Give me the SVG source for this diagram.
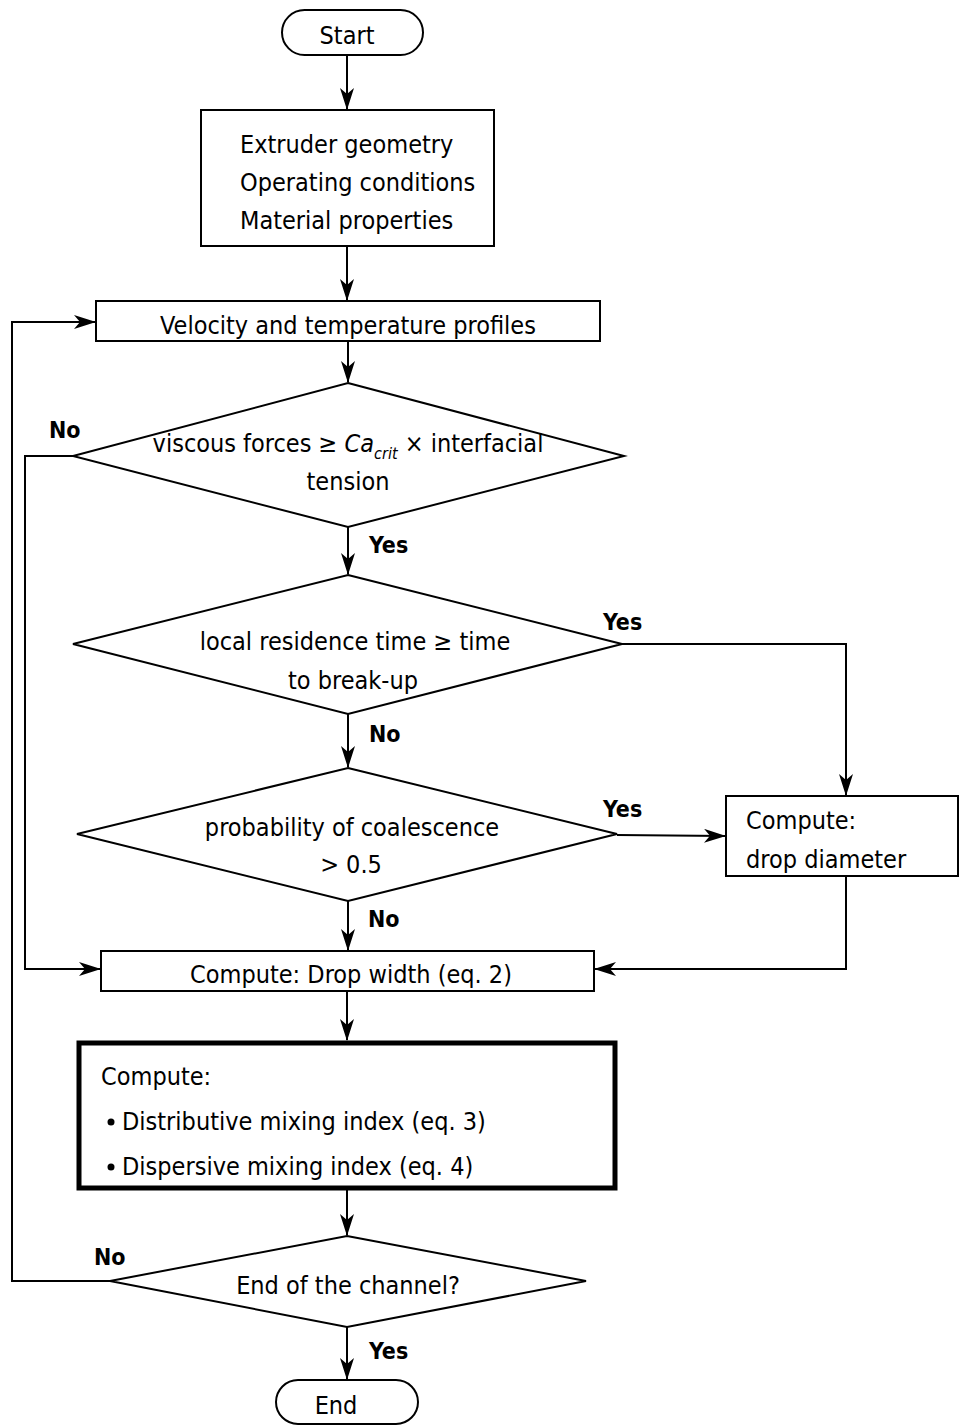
<svg xmlns="http://www.w3.org/2000/svg" width="959" height="1426" viewBox="0 0 959 1426">
  <defs>
    <marker id="arrow" viewBox="0 0 22 14" refX="21" refY="7" markerWidth="22" markerHeight="14" markerUnits="userSpaceOnUse" orient="auto">
      <path d="M0,0 L22,7 L0,14 L6,7 z" fill="#000"/>
    </marker>
    <style>
      .shape { fill: #fff; stroke: #000; stroke-width: 2; }
      .thick { fill: #fff; stroke: #000; stroke-width: 5; }
      .arr { fill: none; stroke: #000; stroke-width: 2; marker-end: url(#arrow); }
      text { font-family: "Liberation Sans Narrow", "DejaVu Sans Condensed", "Roboto", sans-serif; font-size: 25px; fill: #000; }
      .c { text-anchor: middle; }
      .lbl { font-weight: bold; font-size: 23px; }
    </style>
  </defs>

  <!-- connectors -->
  <g id="connectors">
    <path class="arr" d="M347,56 L347,109"/>
    <path class="arr" d="M347,246 L347,300"/>
    <path class="arr" d="M110,1281 L12,1281 L12,322 L95,322"/>
    <path class="arr" d="M348,341 L348,382"/>
    <path class="arr" d="M73,456 L25,456 L25,969 L100,969"/>
    <path class="arr" d="M348,527 L348,574"/>
    <path class="arr" d="M622,644 L846,644 L846,795"/>
    <path class="arr" d="M348,714 L348,767"/>
    <path class="arr" d="M617,835 L725,836"/>
    <path class="arr" d="M846,876 L846,969 L595,969"/>
    <path class="arr" d="M348,901 L348,950"/>
    <path class="arr" d="M347,991 L347,1040"/>
    <path class="arr" d="M347,1190 L347,1235"/>
    <path class="arr" d="M347,1327 L347,1379"/>
    <text class="lbl" x="49" y="438">No</text>
    <text class="lbl" x="369" y="553">Yes</text>
    <text class="lbl" x="603" y="630">Yes</text>
    <text class="lbl" x="369" y="742">No</text>
    <text class="lbl" x="603" y="817">Yes</text>
    <text class="lbl" x="368" y="927">No</text>
    <text class="lbl" x="94" y="1265">No</text>
    <text class="lbl" x="369" y="1359">Yes</text>
  </g>

  <g id="start">
    <rect class="shape" x="282" y="10" width="141" height="45" rx="22.5"/>
    <text class="c" x="347" y="44">Start</text>
  </g>

  <g id="inputs">
    <rect class="shape" x="201" y="110" width="293" height="136"/>
    <text x="240" y="153">Extruder geometry</text>
    <text x="240" y="191">Operating conditions</text>
    <text x="240" y="229">Material properties</text>
  </g>

  <g id="profiles">
    <rect class="shape" x="96" y="301" width="504" height="40"/>
    <text class="c" x="348" y="334">Velocity and temperature profiles</text>
  </g>

  <g id="decision-viscous">
    <polygon class="shape" points="348,383 624,456 348,527 73,456"/>
    <text class="c" x="348" y="452">viscous forces ≥ <tspan font-style="italic">Ca</tspan><tspan font-style="italic" font-size="16" dy="7">crit</tspan><tspan dy="-7"> × interfacial</tspan></text>
    <text class="c" x="348" y="490">tension</text>
  </g>

  <g id="decision-residence">
    <polygon class="shape" points="348,575 622,644 348,714 73,644"/>
    <text class="c" x="355" y="650">local residence time ≥ time</text>
    <text class="c" x="353" y="689">to break-up</text>
  </g>

  <g id="decision-coalescence">
    <polygon class="shape" points="348,768 617,834 348,901 77,834"/>
    <text class="c" x="352" y="836">probability of coalescence</text>
    <text class="c" x="351" y="873">&gt; 0.5</text>
  </g>

  <g id="drop-diameter">
    <rect class="shape" x="726" y="796" width="232" height="80"/>
    <text x="746" y="829">Compute:</text>
    <text x="746" y="868">drop diameter</text>
  </g>

  <g id="drop-width">
    <rect class="shape" x="101" y="951" width="493" height="40"/>
    <text class="c" x="351" y="983">Compute: Drop width (eq. 2)</text>
  </g>

  <g id="mixing-indices">
    <rect class="thick" x="79" y="1043" width="536" height="145"/>
    <text x="101" y="1085">Compute:</text>
    <circle cx="111" cy="1122" r="3.5" fill="#000"/>
    <text x="122" y="1130">Distributive mixing index (eq. 3)</text>
    <circle cx="111" cy="1167" r="3.5" fill="#000"/>
    <text x="122" y="1175">Dispersive mixing index (eq. 4)</text>
  </g>

  <g id="decision-end">
    <polygon class="shape" points="347,1236 586,1281 347,1327 110,1281"/>
    <text class="c" x="348" y="1294">End of the channel?</text>
  </g>

  <g id="end">
    <rect class="shape" x="276" y="1380" width="142" height="44" rx="22"/>
    <text class="c" x="336" y="1414">End</text>
  </g>
</svg>
